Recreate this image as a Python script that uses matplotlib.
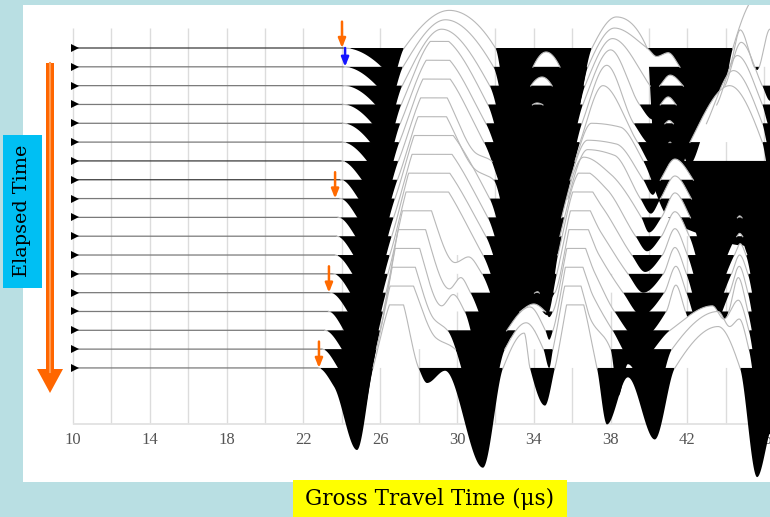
import numpy as np
import matplotlib
matplotlib.use("Agg")
import matplotlib.pyplot as plt
from matplotlib.patches import Rectangle, FancyArrow

# control points, one list per trace (top to bottom)
# (time in us, amplitude in units of the trace spacing, + is up)
trace_pts = [
    [(24.1, 0), (26.07, -1), (26.5, -2.0), (27.25, 0), (29.6, 2.0), (32.0, 0), (32.8, -4.5), (34.5, -5.5),
     (36.0, -4.5), (37.03, 0), (38.3, 1.65), (39.9, 0), (40.25, -5.0), (40.8, -6.3), (42.2, -5.0), (43.7, -3.3),
     (44.37, 0), (45.4, 2.6), (46.3, 3.2)],
    [(24.1, 0), (25.81, -1), (26.35, -2.3), (27.19, 0), (29.4, 2.5), (31.9, 0), (32.9, -4.0), (33.6, -2.5),
     (33.96, 0), (34.64, 0.79), (35.36, 0), (35.7, -2.5), (36.2, -2.5), (36.82, 0), (38.2, 2.06), (39.9, 1.0),
     (40.4, 0.55), (41.0, 0.75), (41.6, 0), (42.5, -1.8), (44.2, 0), (44.75, 1.96), (45.63, -0.17), (46.3, 2.0)],
    [(24.08, 0), (25.73, -1), (26.25, -2.5), (27.15, 0), (29.2, 3.0), (31.7, 0), (32.9, -3.8), (33.5, -2.5),
     (33.85, 0), (34.43, 0.46), (34.95, 0), (35.3, -2.5), (35.9, -2.8), (36.67, 0), (38.1, 2.5), (40.05, 0),
     (40.3, -0.4), (40.57, 0), (41.1, 0.56), (41.77, 0), (42.6, -1.8), (43.96, 0), (44.8, 2.3), (45.9, 0),
     (46.3, -0.8)],
    [(24.06, 0), (25.57, -1), (26.15, -2.7), (27.1, 0), (29.0, 3.6), (31.6, 0), (32.8, -3.5), (33.6, -1.5),
     (33.95, 0), (34.17, 0.08), (34.45, 0), (34.9, -1.8), (35.7, -2.8), (36.56, 0), (38.0, 2.9), (39.5, 0),
     (40.2, -0.8), (40.6, 0), (41.0, 0.4), (41.4, 0), (42.3, -2.0), (43.54, 0), (44.6, 2.6), (45.9, 0),
     (46.3, -1.2)],
    [(24.04, 0), (25.47, -1), (26.05, -2.9), (27.05, 0), (28.9, 3.8), (31.5, 0), (33.0, -3.5), (34.3, -2.6),
     (35.6, -3.0), (36.51, 0), (37.8, 3.08), (39.2, 0), (40.2, -1.2), (40.85, 0), (41.05, 0.15), (41.25, 0),
     (42.1, -2.2), (43.0, 0), (44.4, 2.8), (45.9, 0), (46.3, -1.5)],
    [(24.0, 0), (25.31, -1), (25.95, -3.0), (27.0, 0), (28.8, 4.0), (31.4, 0), (33.0, -3.6), (34.4, -2.6),
     (35.5, -3.0), (36.41, 0), (37.6, 3.0), (39.4, 0), (40.4, -1.5), (41.1, 0), (41.6, -1.5), (42.14, 0),
     (44.2, 3.0), (45.9, 0), (46.3, -1.8)],
    [(23.97, 0), (25.04, -1), (25.85, -3.1), (26.95, 0), (28.75, 4.2), (31.0, 0.4), (31.8, 0), (33.0, -3.8),
     (34.4, -2.4), (35.4, -3.0), (36.15, 0), (37.0, 2.0), (38.5, 1.8), (39.7, 0), (41.0, -3.0), (43.0, -4.0),
     (45.0, -4.5), (46.3, -4.0)],
    [(23.94, 0), (24.86, -1), (25.72, -3.3), (26.9, 0), (28.6, 4.3), (31.0, 0.5), (31.9, 0), (33.0, -3.8),
     (34.5, -2.4), (35.3, -3.0), (35.89, 0), (36.8, 2.1), (38.3, 1.9), (39.7, 0), (40.2, -0.8), (40.6, 0),
     (41.35, 1.1), (42.3, 0), (43.3, -2.5), (44.0, -1.5), (45.0, -3.5), (46.3, -3.0)],
    [(23.9, 0), (24.8, -1), (25.62, -3.4), (26.77, 0), (28.4, 4.4), (31.7, 0), (33.0, -3.8), (34.5, -2.4),
     (35.2, -3.0), (35.78, 0), (36.8, 2.6), (38.2, 2.3), (39.55, 0), (40.1, -0.8), (40.6, 0), (41.35, 1.2),
     (42.2, 0), (43.2, -2.6), (44.4, -1.0), (45.3, -3.2), (46.3, -3.0)],
    [(23.8, 0), (24.7, -1), (25.5, -3.5), (26.7, 0), (28.3, 4.5), (31.6, 0), (33.0, -3.8), (34.4, -2.4),
     (35.0, -2.8), (35.45, 0), (36.6, 3.2), (38.0, 2.3), (39.6, 0), (40.0, -0.8), (40.65, 0), (41.35, 1.3),
     (42.15, 0), (43.2, -2.7), (44.55, -0.1), (44.72, 0.08), (44.9, -0.1), (45.7, -3.0), (46.3, -2.5)],
    [(23.72, 0), (24.6, -1), (25.4, -3.6), (26.6, 0), (28.1, 4.6), (31.5, 0), (33.0, -3.8), (34.4, -2.4),
     (34.9, -2.6), (35.36, 0), (36.5, 3.5), (37.8, 2.5), (39.3, 0), (39.9, -0.8), (40.65, 0), (41.35, 1.3),
     (42.1, 0), (43.1, -2.8), (44.55, -0.05), (44.72, 0.15), (44.9, -0.05), (45.7, -3.2), (46.3, -2.7)],
    [(23.63, 0), (24.55, -1), (25.3, -3.7), (26.5, 0), (28.0, 4.8), (31.35, 0), (32.9, -3.6), (34.3, -2.2),
     (34.8, -2.5), (35.26, 0), (36.4, 4.0), (37.6, 2.5), (39.1, 0), (39.8, -0.9), (40.7, 0), (41.35, 1.4),
     (42.0, 0), (43.0, -2.8), (44.45, 0), (44.75, 0.6), (45.05, 0), (45.8, -3.2), (46.3, -2.8)],
    [(23.55, 0), (24.43, -1), (25.2, -3.8), (26.4, 0), (27.8, 5.0), (29.9, 0.6), (30.6, 0.9), (31.3, 0),
     (32.8, -3.4), (34.2, -1.8), (34.7, -2.2), (35.2, 0), (36.3, 4.2), (37.5, 2.2), (38.9, 0), (39.7, -1.0),
     (40.75, 0), (41.35, 1.4), (41.95, 0), (42.9, -2.8), (44.3, 0), (44.72, 1.0), (45.15, 0), (45.9, -3.4),
     (46.3, -3.0)],
    [(23.39, 0), (24.3, -1), (25.1, -3.9), (26.3, 0), (27.5, 5.2), (29.6, 0.2), (30.2, 0.8), (30.7, 0),
     (32.2, -3.2), (33.6, -0.6), (34.2, 0.05), (34.6, -0.6), (35.1, 0), (36.2, 4.4), (37.4, 2.0), (38.65, 0),
     (39.6, -1.2), (40.8, 0), (41.4, 1.4), (41.95, 0), (42.9, -2.6), (44.2, 0), (44.7, 1.4), (45.15, 0),
     (45.9, -3.6), (46.3, -3.2)],
    [(23.3, 0), (24.1, -1), (25.0, -4.0), (26.15, 0), (27.3, 5.0), (29.2, 0.3), (29.8, 0.9), (30.4, 0),
     (31.5, -3.6), (32.8, -0.6), (33.3, 0), (34.0, 0.4), (34.6, 0), (34.8, -0.3), (35.0, 0), (36.1, 4.4),
     (37.2, 2.0), (38.2, 0), (39.5, -1.5), (40.9, 0), (41.4, 1.4), (41.9, 0), (42.8, -2.4), (44.15, 0),
     (44.65, 1.8), (45.15, 0), (46.0, -3.8), (46.3, -3.5)],
    [(23.1, 0), (24.0, -1), (24.95, -4.1), (26.0, 0), (27.1, 4.8), (28.8, 0.6), (29.5, 0), (31.2, -4.4),
     (32.6, 0), (33.8, 1.24), (34.6, 0), (34.8, -0.5), (35.0, 0), (36.0, 4.4), (37.1, 1.8), (38.1, 0),
     (39.3, -1.8), (41.1, 0), (43.3, 1.3), (43.9, 0.6), (44.65, 1.6), (45.2, 0), (46.0, -4.5), (46.3, -4.0)],
    [(22.97, 0), (23.8, -1), (24.87, -4.2), (25.8, 0), (27.0, 4.5), (28.9, 0.6), (29.9, 0), (31.3, -4.8),
     (32.5, 0), (33.6, 1.4), (34.5, 0), (34.8, -1.0), (35.0, 0), (36.0, 4.4), (37.0, 1.5), (38.0, 0),
     (38.4, -2.5), (38.9, -0.8), (40.2, -3.0), (41.2, 0), (43.6, 2.0), (44.2, 1.2), (44.7, 1.6), (45.2, 0),
     (46.0, -5.0), (46.3, -4.5)],
    [(22.76, 0), (23.6, -1), (24.79, -4.36), (25.63, 0), (26.9, 4.0), (28.0, 0), (28.44, -0.8), (29.38, -0.15),
     (31.35, -5.3), (32.4, 0), (33.5, 1.85), (33.8, 0), (34.58, -2.0), (35.1, 0), (36.1, 4.5), (37.29, 0),
     (37.81, -3.0), (38.9, -0.5), (40.3, -3.8), (41.35, 0), (43.6, 2.2), (44.74, 0), (45.63, -5.8), (46.5, -3.0)],
]

tick_times = [10, 14, 18, 22, 26, 30, 34, 38, 42, 46]
grid_times = list(range(10, 48, 2))
pick_trace = [0, 8, 13, 17]          # orange first-arrival picks
pick_time = [24.01, 23.65, 23.33, 22.81]
blue_pick = (24.17, 1)               # blue pick on the second trace
dark_traces = [0, 6, 7]
source_time = 10.12
CLIP = 3.35                          # positive lobes are clipped


def pchip(xk, yk, x):
    xk = np.asarray(xk, float)
    yk = np.asarray(yk, float)
    h = np.diff(xk)
    d = np.diff(yk) / h
    m = np.zeros_like(yk)
    for i in range(1, len(xk) - 1):
        if d[i - 1] * d[i] > 0:
            w1 = 2 * h[i] + h[i - 1]
            w2 = h[i] + 2 * h[i - 1]
            m[i] = (w1 + w2) / (w1 / d[i - 1] + w2 / d[i])
    i = np.clip(np.searchsorted(xk, x) - 1, 0, len(xk) - 2)
    u = (x - xk[i]) / h[i]
    h00 = 2 * u**3 - 3 * u**2 + 1
    h10 = u**3 - 2 * u**2 + u
    h01 = -2 * u**3 + 3 * u**2
    h11 = u**3 - u**2
    return h00 * yk[i] + h10 * h[i] * m[i] + h01 * yk[i + 1] + h11 * h[i] * m[i + 1]


W, H = 770, 517
fig = plt.figure(figsize=(W / 100, H / 100), dpi=100, facecolor='#b9dfe3')

# white panel = data axes
px0, px1, py0, py1 = 23, 770, 5, 482
ax = fig.add_axes([px0 / W, 1 - py1 / H, (px1 - px0) / W, (py1 - py0) / H])
ax.set_facecolor('white')
xs, ys = 19.2, 18.82   # pixels per us, pixels per trace spacing
ax.set_xlim(10 + (px0 - 73) / xs, 10 + (px1 - 73) / xs)
ax.set_ylim(-(py1 - 48) / ys, (48 - py0) / ys)
ax.set_xticks([])
ax.set_yticks([])
for sp in ax.spines.values():
    sp.set_visible(False)

ax.vlines(grid_times, -20, 1.06, color='#dcdcdc', lw=1.0, zorder=1)
ax.hlines(-20, 10, 47, color='#e2e2e2', lw=1.3, zorder=1)
for tt in tick_times:
    ax.text(tt, -20.85, str(tt), ha='center', va='center', fontsize=12,
            family='Liberation Serif', color='#555555', zorder=1)

t = np.linspace(10.0, 47.0, 8000)
curves = []
for k, pts in enumerate(trace_pts):
    tk = [10.0] + [p[0] for p in pts] + [48.0]
    vk = [0.0] + [p[1] for p in pts] + [pts[-1][1]]
    s = np.minimum(pchip(tk, vk, t), CLIP)
    base = -k
    y = base + s
    z = 2 + 0.1 * k
    ax.fill_between(t, base, y, where=s > 0, interpolate=True, color='white', lw=0, zorder=z)
    ax.fill_between(t, base, y, where=s < 0, interpolate=True, color='black', lw=0, zorder=z + 0.01)
    curves.append((k, pts[0][0], s, y))

for k, t_on, s, y in curves:
    pre = t <= t_on
    col = '#3a3a3a' if k in dark_traces else '#7a7a7a'
    ax.plot(t[pre], np.full(pre.sum(), -k), color=col, lw=0.9, zorder=50)
    ax.plot(t, np.where((s > -0.03) & ~pre, y, np.nan), color='#b8b8b8', lw=0.8, zorder=50)
    ax.plot(source_time, -k, marker='>', ms=5.5, color='black', mew=0, zorder=51)

for tr, tp in zip(pick_trace, pick_time):
    ax.annotate('', xy=(tp, -tr), xytext=(tp, -tr + 1.4),
                arrowprops=dict(arrowstyle='-|>,head_width=0.22,head_length=0.55',
                                color='#ff6a00', lw=1.8, shrinkA=0, shrinkB=0),
                zorder=60, annotation_clip=False)
ax.annotate('', xy=(blue_pick[0], -blue_pick[1]), xytext=(blue_pick[0], -blue_pick[1] + 1.0),
            arrowprops=dict(arrowstyle='-|>,head_width=0.22,head_length=0.55',
                            color='#1414ff', lw=1.8, shrinkA=0, shrinkB=0),
            zorder=60, annotation_clip=False)

# overlay in pixel coordinates for labels and the big arrow
ov = fig.add_axes([0, 0, 1, 1])
ov.set_xlim(0, W)
ov.set_ylim(H, 0)
ov.axis('off')
ov.add_patch(FancyArrow(50, 63, 0, 330, width=8, head_width=26, head_length=24,
                        length_includes_head=True, color='#ff6600', lw=0))
ov.plot([50, 50], [63, 372], color='#ff9a50', lw=1.5)
ov.add_patch(Rectangle((3, 135), 39, 153, color='#00bff3', lw=0))
ov.text(22.5, 211, 'Elapsed Time', rotation=90, ha='center', va='center',
        fontsize=13.8, family='DejaVu Serif', color='black')
ov.add_patch(Rectangle((293, 480), 274, 40, color='#ffff00', lw=0))
ov.text(430, 499, 'Gross Travel Time (\u03bcs)', ha='center', va='center',
        fontsize=15.5, family='DejaVu Serif', color='black')

fig.savefig('out.png', dpi=100, facecolor=fig.get_facecolor())
